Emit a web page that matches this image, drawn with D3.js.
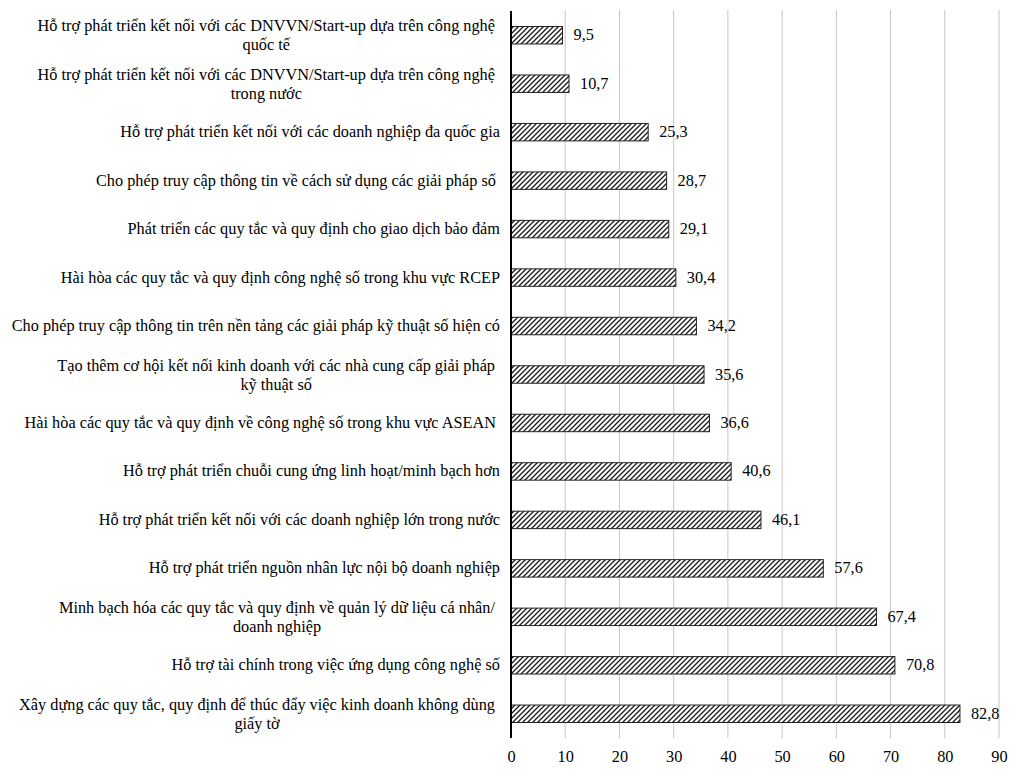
<!DOCTYPE html>
<html>
<head>
<meta charset="utf-8">
<script src="https://cdn.jsdelivr.net/npm/d3@7"></script>
<style>
  html, body { margin: 0; padding: 0; background: #fff; }
  svg text { font-family: "Liberation Serif", "Times New Roman", "DejaVu Serif", serif; }
</style>
</head>
<body>
<svg id="chart" width="1013" height="769"></svg>
<script>
// Survey items, listed top to bottom; "\n" marks a wrapped line
const categories = [
  "Hỗ trợ phát triển kết nối với các DNVVN/Start-up dựa trên công nghệ\nquốc tế",
  "Hỗ trợ phát triển kết nối với các DNVVN/Start-up dựa trên công nghệ\ntrong nước",
  "Hỗ trợ phát triển kết nối với các doanh nghiệp đa quốc gia",
  "Cho phép truy cập thông tin về cách sử dụng các giải pháp số ",
  "Phát triển các quy tắc và quy định cho giao dịch bảo đảm",
  "Hài hòa các quy tắc và quy định công nghệ số trong khu vực RCEP",
  "Cho phép truy cập thông tin trên nền tảng các giải pháp kỹ thuật số hiện có",
  "Tạo thêm cơ hội kết nối kinh doanh với các nhà cung cấp giải pháp\nkỹ thuật số",
  "Hài hòa các quy tắc và quy định về công nghệ số trong khu vực ASEAN ",
  "Hỗ trợ phát triển chuỗi cung ứng linh hoạt/minh bạch hơn",
  "Hỗ trợ phát triển kết nối với các doanh nghiệp lớn trong nước",
  "Hỗ trợ phát triển nguồn nhân lực nội bộ doanh nghiệp",
  "Minh bạch hóa các quy tắc và quy định về quản lý dữ liệu cá nhân/\ndoanh nghiệp",
  "Hỗ trợ tài chính trong việc ứng dụng công nghệ số",
  "Xây dựng các quy tắc, quy định để thúc đẩy việc kinh doanh không dùng\ngiấy tờ"
];
const values = [9.5, 10.7, 25.3, 28.7, 29.1, 30.4, 34.2, 35.6, 36.6, 40.6, 46.1, 57.6, 67.4, 70.8, 82.8];
const xTicks = [0, 10, 20, 30, 40, 50, 60, 70, 80, 90];

const data = categories.map((c, i) => ({ label: c, value: values[i] }));
const fmt = v => d3.format(".1f")(v).replace(".", ",");
const FONT = "'Liberation Serif', 'Times New Roman', 'DejaVu Serif', serif";
const FS = 16.3;

const svg = d3.select("#chart");
const plot = { left: 511, right: 999, top: 11, bottom: 738 };

const x = d3.scaleLinear().domain([0, 90]).range([plot.left, plot.right]);
const y = d3.scaleBand()
  .domain(categories)
  .range([plot.top, plot.bottom])
  .paddingInner(0.64)
  .paddingOuter(0.32);

// diagonal hatch fill for the bars
const defs = svg.append("defs");
const pat = defs.append("pattern")
  .attr("id", "hatch")
  .attr("patternUnits", "userSpaceOnUse")
  .attr("width", 5).attr("height", 5);
pat.append("rect").attr("width", 5).attr("height", 5).attr("fill", "#fff");
pat.append("path")
  .attr("d", "M-1,1 l2,-2 M0,5 l5,-5 M4,6 l2,-2")
  .attr("stroke", "#1a1a1a").attr("stroke-width", 1.3);

// vertical gridlines
svg.append("g")
  .selectAll("line")
  .data(xTicks.filter(t => t > 0))
  .join("line")
  .attr("x1", d => x(d)).attr("x2", d => x(d))
  .attr("y1", plot.top - 1).attr("y2", plot.bottom)
  .attr("stroke", "#c6c6c6").attr("stroke-width", 1);

// bottom tick labels
const xAxis = d3.axisBottom(x).tickValues(xTicks).tickSize(0).tickPadding(12);
const gx = svg.append("g")
  .attr("transform", `translate(0,${plot.bottom})`)
  .call(xAxis)
  .attr("font-family", FONT)
  .attr("font-size", FS);
gx.select(".domain").remove();
gx.selectAll("text").attr("fill", "#000");

// bars
svg.append("g")
  .selectAll("rect")
  .data(data)
  .join("rect")
  .attr("x", x(0))
  .attr("y", d => y(d.label))
  .attr("width", d => x(d.value) - x(0))
  .attr("height", y.bandwidth())
  .attr("fill", "url(#hatch)")
  .attr("stroke", "#222")
  .attr("stroke-width", 1);

// value labels
svg.append("g")
  .attr("font-family", FONT)
  .attr("font-size", FS)
  .selectAll("text")
  .data(data)
  .join("text")
  .attr("x", d => x(d.value) + 11)
  .attr("y", d => y(d.label) + y.bandwidth() / 2 + 5)
  .attr("fill", "#000")
  .text(d => fmt(d.value));

// category labels; wrapped lines are centred under the first line
const labelRight = 500;
const lg = svg.append("g")
  .attr("font-family", FONT)
  .attr("font-size", FS)
  .attr("fill", "#000");
data.forEach(d => {
  const lines = d.label.split("\n");
  const cy = y(d.label) + y.bandwidth() / 2;
  if (lines.length === 1) {
    lg.append("text")
      .attr("x", labelRight)
      .attr("y", cy + 5)
      .attr("text-anchor", "end")
      .attr("xml:space", "preserve")
      .text(lines[0]);
  } else {
    const first = lg.append("text")
      .attr("x", labelRight - 5)
      .attr("y", cy - 4)
      .attr("text-anchor", "end")
      .text(lines[0]);
    const w = first.node().getComputedTextLength();
    lg.append("text")
      .attr("x", labelRight - 5 - w / 2)
      .attr("y", cy + 15)
      .attr("text-anchor", "middle")
      .text(lines[1]);
  }
});

// vertical category axis line
svg.append("line")
  .attr("x1", plot.left).attr("x2", plot.left)
  .attr("y1", plot.top).attr("y2", plot.bottom)
  .attr("stroke", "#000").attr("stroke-width", 2);
</script>
</body>
</html>
